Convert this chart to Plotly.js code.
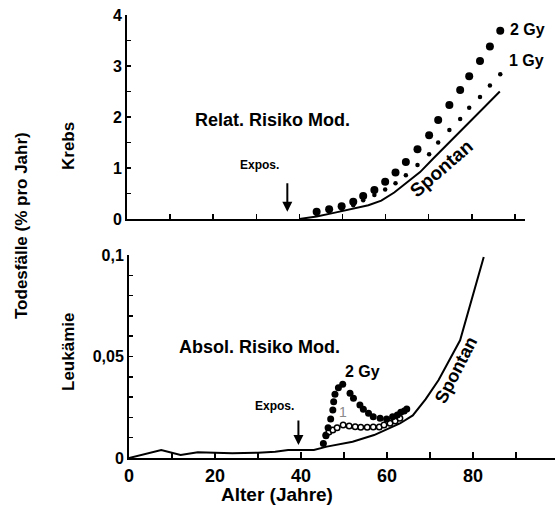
<!DOCTYPE html>
<html>
<head>
<meta charset="utf-8">
<script src="https://cdn.plot.ly/plotly-3.0.1.min.js"></script>
<style>html,body{margin:0;padding:0;background:#fff;}#chart{width:555px;height:506px;}</style>
</head>
<body>
<div id="chart"></div>
<script>
// ---- Data ----
// Top panel: Krebs, relative risk model
const krebsSpontanAge = [40, 44, 48, 52, 56, 59, 62, 65, 68, 71, 74, 77, 80, 83, 86.5];
const krebsSpontanVal = [0.0, 0.05, 0.12, 0.19, 0.27, 0.36, 0.52, 0.72, 0.92, 1.18, 1.44, 1.69, 1.95, 2.20, 2.50];
const krebsDoseAge = [44.0, 46.9, 49.8, 52.5, 54.8, 57.4, 59.9, 62.3, 64.7, 67.4, 70.1, 72.2, 74.8, 77.3, 79.4, 81.9, 84.2, 86.6];
const krebs2Gy = [0.14, 0.19, 0.25, 0.34, 0.45, 0.57, 0.73, 0.91, 1.12, 1.37, 1.64, 1.94, 2.235, 2.53, 2.80, 3.10, 3.38, 3.69];
const krebs1Gy = [0.10, 0.15, 0.20, 0.27, 0.37, 0.47, 0.58, 0.70, 0.86, 1.06, 1.27, 1.50, 1.745, 1.96, 2.18, 2.39, 2.62, 2.84];
// Bottom panel: Leukämie, absolute risk model
const leukSpontanAge = [0, 7.5, 12, 16, 20, 24, 30, 34, 37, 43, 46, 52, 57, 63, 66, 69, 72, 77, 82.5];
const leukSpontanVal = [0, 0.0039, 0.0015, 0.0028, 0.0026, 0.0023, 0.0026, 0.0031, 0.0039, 0.0039, 0.0056, 0.008, 0.0113, 0.017, 0.021, 0.029, 0.0384, 0.058, 0.099];
const leuk2GyAge = [45.2, 45.8, 46.3, 46.9, 47.4, 47.6, 47.9, 48.7, 49.7, 51.4, 52.2, 53.7, 54.5, 55.7, 56.8, 58.4, 59.9, 61.3, 62.4, 63.2, 64.0, 64.6];
const leuk2GyVal = [0.0072, 0.011, 0.0149, 0.0192, 0.0236, 0.0277, 0.0314, 0.0346, 0.0363, 0.0319, 0.0294, 0.0261, 0.024, 0.022, 0.0203, 0.0196, 0.0192, 0.0203, 0.0212, 0.0225, 0.0232, 0.0241];
const leuk1GyAge = [45.8, 46.5, 47.4, 48.4, 49.8, 51.2, 52.6, 53.9, 55.4, 56.8, 58.2, 59.3, 60.7, 61.9, 63.0];
const leuk1GyVal = [0.0113, 0.0128, 0.0138, 0.0149, 0.0163, 0.0158, 0.0154, 0.0151, 0.0151, 0.0153, 0.0153, 0.0163, 0.0171, 0.0182, 0.0196];
// Exposure ages
const exposAgeTop = 37.2;
const exposAgeBottom = 39.4;

// ---- Helpers for pixel placement ----
const W = 555, H = 506;
const px = x => x / W;
const py = y => 1 - y / H;
const FONT = 'Liberation Sans, Arial, Helvetica, sans-serif';
const NARROW = 'Liberation Sans Narrow, Arial Narrow, Liberation Sans, Arial, sans-serif';

const traces = [
  {x: krebsSpontanAge, y: krebsSpontanVal, xaxis: 'x2', yaxis: 'y2', mode: 'lines',
   line: {color: '#000', width: 2}, hoverinfo: 'skip'},
  {x: krebsDoseAge, y: krebs1Gy, xaxis: 'x2', yaxis: 'y2', mode: 'markers',
   marker: {color: '#000', size: 4.5}, hoverinfo: 'skip'},
  {x: krebsDoseAge, y: krebs2Gy, xaxis: 'x2', yaxis: 'y2', mode: 'markers',
   marker: {color: '#000', size: 8}, hoverinfo: 'skip'},
  {x: leukSpontanAge, y: leukSpontanVal, xaxis: 'x', yaxis: 'y', mode: 'lines',
   line: {color: '#000', width: 2}, hoverinfo: 'skip'},
  {x: leuk1GyAge, y: leuk1GyVal, xaxis: 'x', yaxis: 'y', mode: 'markers',
   marker: {color: '#fff', size: 5.5, symbol: 'circle', line: {color: '#000', width: 1.5}}, hoverinfo: 'skip'},
  {x: leuk2GyAge, y: leuk2GyVal, xaxis: 'x', yaxis: 'y', mode: 'markers',
   marker: {color: '#000', size: 7}, hoverinfo: 'skip'}
];

const tickFontY = {family: FONT, size: 16, color: '#000', weight: 700};
const tickFontX = {family: NARROW, size: 18, color: '#000', weight: 700};

const layout = {
  width: W, height: H,
  margin: {l: 0, r: 0, t: 0, b: 0},
  paper_bgcolor: '#fff', plot_bgcolor: '#fff',
  showlegend: false,
  separators: ',.',
  font: {family: FONT, color: '#000'},
  xaxis: {
    domain: [px(129), 1], range: [0, (W - 129) / 4.30], anchor: 'y',
    showline: true, linecolor: '#000', linewidth: 2, showgrid: false, zeroline: false,
    ticks: 'inside', ticklen: 6, tickwidth: 1.5, tickcolor: '#000',
    tick0: 0, dtick: 20, tickfont: tickFontX,
    minor: {dtick: 10, tick0: 0, ticks: 'inside', ticklen: 6, tickwidth: 1.5, tickcolor: '#000'}
  },
  yaxis: {
    domain: [py(458), py(255)], range: [0, 0.1], anchor: 'x',
    showline: true, linecolor: '#000', linewidth: 2, showgrid: false, zeroline: false,
    ticks: 'inside', ticklen: 4, tickwidth: 1.5, tickcolor: '#000',
    tick0: 0, dtick: 0.05, tickfont: tickFontY,
    minor: {dtick: 0.01, tick0: 0, ticks: 'inside', ticklen: 4, tickwidth: 1.5, tickcolor: '#000'}
  },
  xaxis2: {
    domain: [px(127), px(525)], range: [0, (525 - 127) / 4.31], anchor: 'y2',
    showline: true, linecolor: '#000', linewidth: 2, showgrid: false, zeroline: false,
    ticks: 'inside', ticklen: 5, tickwidth: 1.5, tickcolor: '#000',
    tick0: 0, dtick: 10, showticklabels: false
  },
  yaxis2: {
    domain: [py(219), py(15)], range: [0, 4], anchor: 'x2',
    showline: true, linecolor: '#000', linewidth: 2, showgrid: false, zeroline: false,
    ticks: 'inside', ticklen: 4, tickwidth: 1.5, tickcolor: '#000',
    tick0: 0, dtick: 1, tickfont: tickFontY,
    minor: {dtick: 0.5, tick0: 0, ticks: 'inside', ticklen: 4, tickwidth: 1.5, tickcolor: '#000'}
  },
  annotations: [
    // axis-like titles
    {xref: 'paper', yref: 'paper', x: px(277), y: py(494), text: 'Alter (Jahre)', showarrow: false,
     font: {family: FONT, size: 19, weight: 700}, xanchor: 'center', yanchor: 'middle'},
    {xref: 'paper', yref: 'paper', x: px(21), y: py(226), text: 'Todesfälle (% pro Jahr)', showarrow: false,
     textangle: -90, font: {family: FONT, size: 17, weight: 700}, xanchor: 'center', yanchor: 'middle'},
    {xref: 'paper', yref: 'paper', x: px(68), y: py(146), text: 'Krebs', showarrow: false,
     textangle: -90, font: {family: FONT, size: 17, weight: 700}, xanchor: 'center', yanchor: 'middle'},
    {xref: 'paper', yref: 'paper', x: px(68), y: py(352), text: 'Leukämie', showarrow: false,
     textangle: -90, font: {family: FONT, size: 17, weight: 700}, xanchor: 'center', yanchor: 'middle'},
    // panel labels
    {xref: 'paper', yref: 'paper', x: px(272), y: py(120), text: 'Relat. Risiko Mod.', showarrow: false,
     font: {family: FONT, size: 18, weight: 700}, xanchor: 'center', yanchor: 'middle'},
    {xref: 'paper', yref: 'paper', x: px(259), y: py(347), text: 'Absol. Risiko Mod.', showarrow: false,
     font: {family: FONT, size: 18, weight: 700}, xanchor: 'center', yanchor: 'middle'},
    // dose labels
    {xref: 'paper', yref: 'paper', x: px(527), y: py(29), text: '2 Gy', showarrow: false,
     font: {family: FONT, size: 16, weight: 700}, xanchor: 'center', yanchor: 'middle'},
    {xref: 'paper', yref: 'paper', x: px(526), y: py(61), text: '1 Gy', showarrow: false,
     font: {family: FONT, size: 16, weight: 700}, xanchor: 'center', yanchor: 'middle'},
    {xref: 'paper', yref: 'paper', x: px(362), y: py(371), text: '2 Gy', showarrow: false,
     font: {family: FONT, size: 16, weight: 700}, xanchor: 'center', yanchor: 'middle'},
    {xref: 'paper', yref: 'paper', x: px(343), y: py(412), text: '1', showarrow: false,
     font: {family: FONT, size: 14, color: '#8a8a8a'}, xanchor: 'center', yanchor: 'middle'},
    // Spontan labels
    {xref: 'paper', yref: 'paper', x: px(441), y: py(168), text: 'Spontan', showarrow: false, textangle: -41,
     font: {family: FONT, size: 19, weight: 700}, xanchor: 'center', yanchor: 'middle'},
    {xref: 'paper', yref: 'paper', x: px(456), y: py(370), text: 'Spontan', showarrow: false, textangle: -63,
     font: {family: FONT, size: 18, weight: 700}, xanchor: 'center', yanchor: 'middle'},
    // exposure labels and arrows
    {xref: 'paper', yref: 'paper', x: px(259), y: py(165), text: 'Expos.', showarrow: false,
     font: {family: FONT, size: 12, weight: 700}, xanchor: 'center', yanchor: 'middle'},
    {xref: 'paper', yref: 'paper', x: px(274), y: py(406), text: 'Expos.', showarrow: false,
     font: {family: FONT, size: 12, weight: 700}, xanchor: 'center', yanchor: 'middle'},
    {xref: 'x2', yref: 'y2', x: exposAgeTop, y: 0.14, text: '', showarrow: true, arrowhead: 2, arrowsize: 1,
     arrowwidth: 2, arrowcolor: '#000', ax: 0, ay: -30, standoff: 0},
    {xref: 'x', yref: 'y', x: exposAgeBottom, y: 0.0064, text: '', showarrow: true, arrowhead: 2, arrowsize: 1,
     arrowwidth: 2, arrowcolor: '#000', ax: 0, ay: -26, standoff: 0}
  ]
};

Plotly.newPlot('chart', traces, layout, {staticPlot: true, displayModeBar: false});
</script>
</body>
</html>
